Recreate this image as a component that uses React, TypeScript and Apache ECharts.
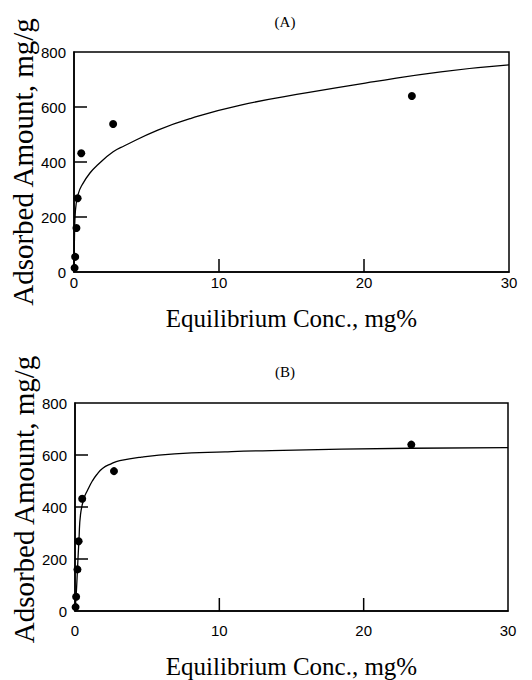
import { useEffect, useRef } from "react";
import * as echarts from "echarts";

// Measured adsorption points (same data in both panels)
const pointConc = [0.04, 0.08, 0.17, 0.25, 0.5, 2.7, 23.3];
const pointAmount = [15, 55, 160, 268, 432, 538, 640];

// (A) Freundlich-type fitted curve
const curveAConc = [0, 0.03, 0.1, 0.3, 0.57, 1.1, 1.64, 2.7, 3.48, 5.78, 8.08, 11.5, 16.1, 20.7, 25.3, 30];
const curveAAmount = [0, 120, 225, 285, 318, 360, 390, 437, 459, 516, 559, 607, 652, 692, 728, 753];

// (B) Langmuir-type fitted curve
const curveBConc = [0, 0.08, 0.18, 0.28, 0.38, 0.6, 0.9, 1.2, 1.5, 1.9, 2.5, 3.1, 4.6, 6.9, 10.4, 13.6, 23.3, 30];
const curveBAmount = [0, 60, 170, 280, 370, 430, 468, 500, 524, 548, 566, 578, 592, 604, 612, 617, 626, 628];

// interior tick positions drawn as inward marks
const xTickValues = [10, 20];
const yTickValues = [200, 400, 600];

const panelTitles = ["(A)", "(B)"];
const xName = "Equilibrium Conc., mg%";
const yName = "Adsorbed Amount, mg/g";

const zip = (xs: number[], ys: number[]) => xs.map((x, i) => [x, ys[i]]);

const plots = [
  { left: 74, top: 52, width: 435, height: 220, xLabelMargin: 3, xNameGap: 34, yNamePad: 0 },
  { left: 75, top: 403, width: 433, height: 217, xLabelMargin: 12, xNameGap: 43, yNamePad: 15 },
];

const TICK_LEN = 13;

export default function App() {
  const ref = useRef<HTMLDivElement>(null);

  useEffect(() => {
    if (!ref.current) return;
    const chart = echarts.init(ref.current, undefined, { renderer: "svg" });
    const ink = "#000";
    const serif = "'Liberation Serif', 'DejaVu Serif', serif";
    const sans = "'Liberation Sans', Arial, sans-serif";
    const line = { show: true, onZero: false, lineStyle: { color: ink, width: 1.5 } };

    const xAxes = plots.map((p, i) => ({
      type: "value",
      gridIndex: i,
      position: "bottom",
      min: 0,
      max: 30,
      interval: 10,
      name: xName,
      nameLocation: "middle",
      nameGap: p.xNameGap,
      nameMoveOverlap: false,
      nameTextStyle: { fontFamily: serif, fontSize: 25, color: ink },
      axisLine: line,
      axisTick: { show: false },
      axisLabel: { fontFamily: sans, fontSize: 15, color: ink, margin: p.xLabelMargin },
      splitLine: { show: false },
    }));

    const yAxes = plots.map((p, i) => ({
      type: "value",
      gridIndex: i,
      position: "left",
      min: 0,
      max: 800,
      interval: 200,
      name: yName,
      nameLocation: "middle",
      nameGap: 37,
      nameMoveOverlap: false,
      nameTextStyle: { fontFamily: serif, fontSize: 29, color: ink, padding: [0, 0, 0, p.yNamePad] },
      axisLine: line,
      axisTick: { show: false },
      axisLabel: { fontFamily: sans, fontSize: 15, color: ink, margin: 8 },
      splitLine: { show: false },
    }));

    const titleStyle = { fontFamily: serif, fontSize: 15, fontWeight: "normal" as const, color: ink };

    const curve = (idx: number, xs: number[], ys: number[]) => ({
      type: "line" as const,
      xAxisIndex: idx,
      yAxisIndex: idx,
      data: zip(xs, ys),
      smooth: 0.5,
      showSymbol: false,
      lineStyle: { color: ink, width: 1.3 },
      z: 2,
    });

    const dots = (idx: number) => ({
      type: "scatter" as const,
      xAxisIndex: idx,
      yAxisIndex: idx,
      data: zip(pointConc, pointAmount),
      symbol: "circle",
      symbolSize: 8,
      itemStyle: { color: ink, opacity: 1 },
      z: 3,
    });

    // inward tick marks as thin rectangles anchored on the axes
    const xTicks = (idx: number) => ({
      type: "scatter" as const,
      xAxisIndex: idx,
      yAxisIndex: idx,
      data: xTickValues.map((v) => [v, 0]),
      symbol: "rect",
      symbolSize: [1.5, TICK_LEN],
      symbolOffset: [0, -TICK_LEN / 2],
      itemStyle: { color: ink, opacity: 1 },
      silent: true,
      clip: false,
      z: 4,
    });
    const yTicks = (idx: number) => ({
      type: "scatter" as const,
      xAxisIndex: idx,
      yAxisIndex: idx,
      data: yTickValues.map((v) => [0, v]),
      symbol: "rect",
      symbolSize: [TICK_LEN, 1.5],
      symbolOffset: [TICK_LEN / 2, 0],
      itemStyle: { color: ink, opacity: 1 },
      silent: true,
      clip: false,
      z: 4,
    });

    chart.setOption({
      animation: false,
      backgroundColor: "#fff",
      title: [
        { text: panelTitles[0], left: 280, top: 9, textAlign: "center", textStyle: titleStyle },
        { text: panelTitles[1], left: 280, top: 359, textAlign: "center", textStyle: titleStyle },
      ],
      grid: plots.map((p) => ({
        show: true,
        left: p.left,
        top: p.top,
        width: p.width,
        height: p.height,
        borderColor: ink,
        borderWidth: 1.5,
        backgroundColor: "transparent",
        containLabel: false,
      })),
      xAxis: xAxes,
      yAxis: yAxes,
      series: [
        curve(0, curveAConc, curveAAmount),
        dots(0),
        xTicks(0),
        yTicks(0),
        curve(1, curveBConc, curveBAmount),
        dots(1),
        xTicks(1),
        yTicks(1),
      ],
    });

    return () => chart.dispose();
  }, []);

  return <div ref={ref} style={{ width: 532, height: 680, position: "absolute", left: 0, top: 0 }} />;
}
